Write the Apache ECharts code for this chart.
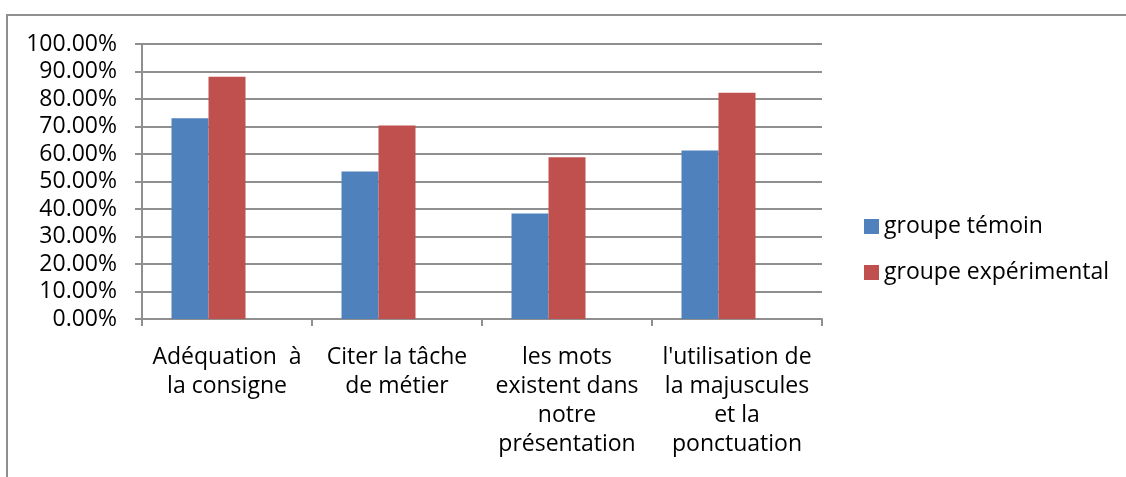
<!DOCTYPE html>
<html>
<head>
<meta charset="utf-8">
<script src="https://cdn.jsdelivr.net/npm/echarts@6/dist/echarts.min.js"></script>
<style>
html,body{margin:0;padding:0;background:#fff;}
#chart{width:1126px;height:477px;}
</style>
</head>
<body>
<div id="chart"></div>
<script>
const categories = [
  "Adéquation  à\nla consigne",
  "Citer la tâche\nde métier",
  "les mots\nexistent dans\nnotre\nprésentation",
  "l'utilisation de\nla majuscules\net la\nponctuation"
];
const seriesNames = ["groupe témoin", "groupe expérimental"];
const temoin = [0.73, 0.536, 0.384, 0.613];
const experimental = [0.881, 0.704, 0.588, 0.823];
const emptySeries = ["-", "-", "-", "-"];
const yTicks = {min: 0, max: 1, interval: 0.1};

const FONT = "Open Sans";
const FS = 23;
const GRAY = '#8f8f8f';
const chart = echarts.init(document.getElementById('chart'), null, {renderer: 'canvas'});
chart.setOption({
  animation: false,
  backgroundColor: '#ffffff',
  textStyle: {fontFamily: FONT},
  graphic: [{
    type: 'rect',
    shape: {x: 7, y: 15, width: 1130, height: 470},
    style: {fill: 'none', stroke: GRAY, lineWidth: 2},
    silent: true
  }],
  grid: {left: 142, right: 304, top: 44, bottom: 158, containLabel: false},
  legend: {
    orient: 'vertical',
    left: 864,
    top: 215,
    padding: 0,
    itemWidth: 15,
    itemHeight: 15,
    itemGap: 23,
    icon: 'rect',
    data: seriesNames,
    textStyle: {fontFamily: FONT, fontSize: FS, color: '#000', lineHeight: 23}
  },
  xAxis: {
    type: 'category',
    data: categories,
    axisLine: {lineStyle: {color: GRAY, width: 2}},
    axisTick: {show: true, length: 7, alignWithLabel: false, lineStyle: {color: GRAY, width: 2}},
    axisLabel: {
      interval: 0,
      margin: 24,
      fontFamily: FONT,
      fontSize: FS,
      lineHeight: 29,
      color: '#000',
      align: 'center'
    },
    splitLine: {show: false}
  },
  yAxis: {
    type: 'value',
    min: yTicks.min,
    max: yTicks.max,
    interval: yTicks.interval,
    axisLine: {show: true, lineStyle: {color: GRAY, width: 2}},
    axisTick: {show: true, length: 7, lineStyle: {color: GRAY, width: 2}},
    axisLabel: {
      margin: 25,
      fontFamily: FONT,
      fontSize: FS,
      color: '#000',
      formatter: v => (v * 100).toFixed(2) + '%'
    },
    splitLine: {show: true, lineStyle: {color: GRAY, width: 2}}
  },
  series: [
    {name: seriesNames[0], type: 'bar', data: temoin, barWidth: 37, barGap: '0%',
     itemStyle: {color: '#4F81BD'}},
    {name: seriesNames[1], type: 'bar', data: experimental, barWidth: 37, barGap: '0%',
     itemStyle: {color: '#C0504D'}},
    {name: 'vide', type: 'bar', data: emptySeries, barWidth: 37, barGap: '0%',
     itemStyle: {color: '#9BBB59'}}
  ]
});
</script>
</body>
</html>
